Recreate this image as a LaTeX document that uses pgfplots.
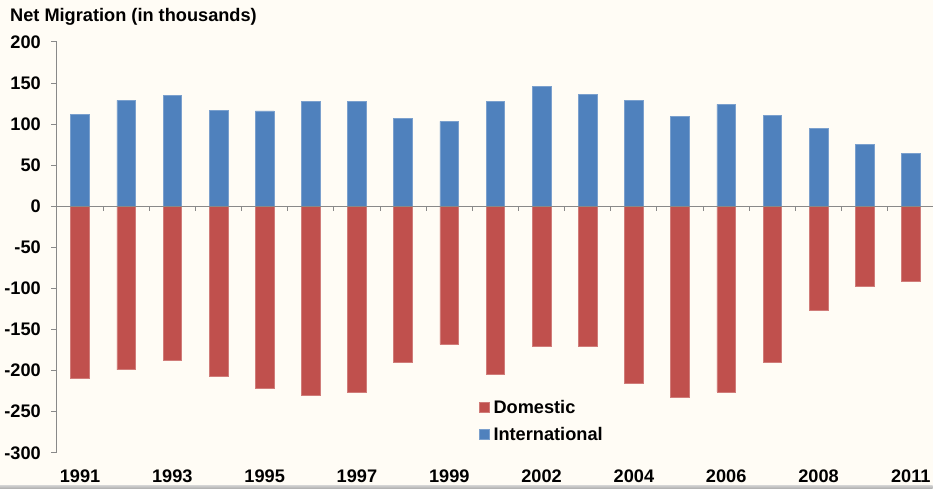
\documentclass[border=0pt]{standalone}
\usepackage{pgfplots}
\pgfplotsset{compat=1.18}
\usepackage{fontspec}
\setmainfont{Liberation Sans}
\definecolor{bg}{RGB}{255,252,245}
\definecolor{intl}{RGB}{79,129,189}
\definecolor{dom}{RGB}{192,80,77}
\definecolor{axgray}{RGB}{137,137,137}
\newcommand{\lbl}{\bfseries\fontsize{18.2}{21}\selectfont}
\pgfplotstableread{
idx intl dom
0 112 -209
1 129 -199
2 135 -188
3 117 -207
4 116 -222
5 128 -230
6 128 -226
7 107 -190
8 103.5 -168
9 128 -205
10 146 -171
11 136 -170
12 129 -215
13 109 -233
14 124 -226
15 111 -190
16 95 -126
17 75 -98
18 64 -91
}\datatable
\begin{document}
\begin{tikzpicture}
\fill[bg] (0pt,0pt) rectangle (933pt,489pt);
\shade[top color=gray!35, bottom color=gray!65] (0pt,0pt) rectangle (933pt,3.5pt);
\node[anchor=base west, inner sep=0pt, font=\lbl] at (10pt,467pt) {Net Migration (in thousands)};
\begin{axis}[
  at={(57pt,36pt)}, anchor=south west,
  scale only axis, width=876pt, height=411pt,
  xmin=-0.5, xmax=18.47, ymin=-300, ymax=200,
  ytick={-300,-250,...,200},
  yticklabels={-300,-250,-200,-150,-100,-50,0,50,100,150,200},
  xtick={0,2,...,18},
  xticklabels={1991,1993,1995,1997,1999,2002,2004,2006,2008,2011},
  axis y line*=left, axis x line*=bottom,
  x axis line style={draw=none},
  y axis line style={axgray, line width=1pt},
  xtick style={draw=none},
  ytick style={axgray, line width=1pt},
  tick align=outside, major tick length=5.5pt,
  tick label style={font=\lbl, text=black},
  yticklabel style={inner sep=0pt, anchor=east, xshift=-10.5pt},
  xticklabel style={inner sep=0pt, anchor=north, yshift=-11.5pt},
  ybar, bar width=18.7pt, bar shift=0pt,
  clip=false,
  legend cell align=left,
  legend style={at={(rel axis cs:0.4817,0.128)}, anchor=north west,
    draw=none, fill=none, inner sep=0pt, font=\lbl, row sep=14.5pt, column sep=4pt,
    nodes={inner sep=0pt, text height=13pt, text depth=0pt}},
  legend image code/.code={\fill[#1] (0pt,-5pt) rectangle (10pt,5pt);},
]
\addplot[fill=dom, draw=dom!75!white, line width=0.6pt] table[x=idx, y=dom] {\datatable};
\addplot[fill=intl, draw=intl!75!white, line width=0.6pt] table[x=idx, y=intl] {\datatable};
\legend{Domestic, International}
\draw[axgray, line width=1pt] (axis cs:-0.5,0) -- (axis cs:18.47,0);
\pgfplotsinvokeforeach{0,...,17}{\draw[axgray, line width=1pt] (axis cs:#1.5,0) -- ++(0pt,-5pt);}
\end{axis}
\end{tikzpicture}
\end{document}
